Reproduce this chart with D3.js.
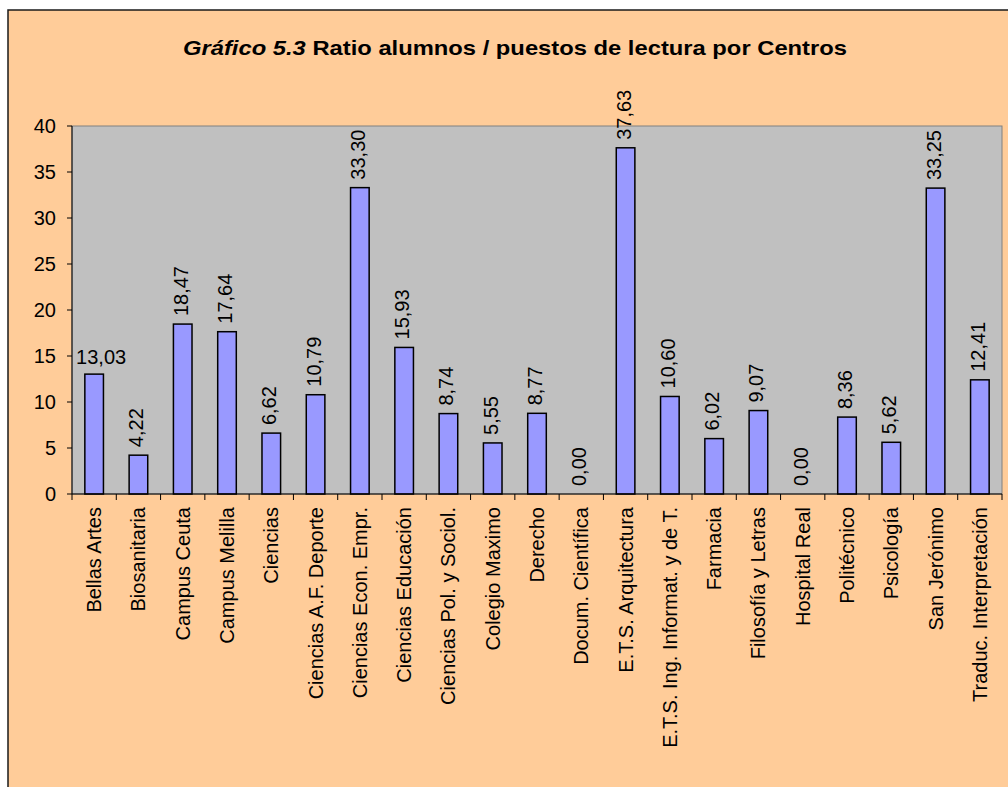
<!DOCTYPE html>
<meta charset="utf-8">
<html>
<head>
<style>
  body { margin: 0; background: #fff; }
  text { font-family: "Liberation Sans", Arial, sans-serif; }
</style>
</head>
<body>
<div id="chartContainer"></div>
<script src="https://cdn.jsdelivr.net/npm/d3@7"></script>
<script type="text/javascript">

  var centros = ["Bellas Artes", "Biosanitaria", "Campus Ceuta", "Campus Melilla", "Ciencias",
    "Ciencias A.F. Deporte", "Ciencias Econ. Empr.", "Ciencias Educación", "Ciencias Pol. y Sociol.",
    "Colegio Maximo", "Derecho", "Docum. Científica", "E.T.S. Arquitectura",
    "E.T.S. Ing. Informat. y de T.", "Farmacia", "Filosofía y Letras", "Hospital Real",
    "Politécnico", "Psicología", "San Jerónimo", "Traduc. Interpretación"];
  var ratios = [13.03, 4.22, 18.47, 17.64, 6.62, 10.79, 33.30, 15.93, 8.74, 5.55, 8.77,
    0.00, 37.63, 10.60, 6.02, 9.07, 0.00, 8.36, 5.62, 33.25, 12.41];
  var yTicks = [0, 5, 10, 15, 20, 25, 30, 35, 40];

  var width = 1008, height = 787;
  var svg = d3.select("#chartContainer").append("svg")
    .attr("width", width)
    .attr("height", height);

  // chart area (peach) - runs off the right and bottom edges
  svg.append("rect")
    .attr("x", 8).attr("y", 10)
    .attr("width", width + 20).attr("height", height + 20)
    .attr("fill", "#FFCC99")
    .attr("stroke", "#1a1a1a")
    .attr("stroke-width", 1.5);

  // title
  var title = svg.append("text")
    .attr("x", 183)
    .attr("y", 55)
    .attr("textLength", 664)
    .attr("lengthAdjust", "spacingAndGlyphs")
    .style("font-size", "21px")
    .style("font-weight", "bold");
  title.append("tspan").style("font-style", "italic").text("Gráfico 5.3");
  title.append("tspan").text("  Ratio alumnos / puestos de lectura por Centros");

  var pLeft = 72, pRight = 1002, pTop = 126, pBottom = 494;

  var x = d3.scaleBand()
    .domain(centros)
    .range([pLeft, pRight])
    .paddingInner(0.58)
    .paddingOuter(0.29);
  var xb = d3.scaleBand().domain(centros).range([pLeft, pRight]);  // category bands for ticks

  var y = d3.scaleLinear().domain([0, 40]).range([pBottom, pTop]);

  // plot area
  svg.append("rect")
    .attr("x", pLeft).attr("y", pTop)
    .attr("width", pRight - pLeft).attr("height", pBottom - pTop)
    .attr("fill", "#C0C0C0")
    .attr("stroke", "#808080")
    .attr("stroke-width", 1);

  // bars
  svg.selectAll("rect.bar")
    .data(ratios)
    .enter()
    .append("rect")
    .attr("class", "bar")
    .attr("x", function (d, i) { return x(centros[i]); })
    .attr("y", function (d) { return y(d); })
    .attr("width", x.bandwidth())
    .attr("height", function (d) { return pBottom - y(d); })
    .attr("fill", "#9999FF")
    .attr("stroke", "#000")
    .attr("stroke-width", 1.5);

  // value labels (first one is horizontal, the rest rotated)
  function fmt(v) { return v.toFixed(2).replace(".", ","); }
  svg.selectAll("text.val")
    .data(ratios)
    .enter()
    .append("text")
    .attr("class", "val")
    .style("font-size", "20px")
    .attr("transform", function (d, i) {
      var cx = xb(centros[i]) + xb.bandwidth() / 2;
      if (i === 0) return "translate(" + (cx + 7) + "," + (y(d) - 10) + ")";
      return "translate(" + (cx + 5) + "," + (y(d) - 8) + ") rotate(-90)";
    })
    .attr("text-anchor", function (d, i) { return i === 0 ? "middle" : "start"; })
    .text(function (d) { return fmt(d); });

  // y axis
  svg.append("line")
    .attr("x1", pLeft).attr("x2", pLeft).attr("y1", pTop).attr("y2", pBottom)
    .attr("stroke", "#000").attr("stroke-width", 1);
  svg.selectAll("line.ytick")
    .data(yTicks).enter().append("line")
    .attr("x1", pLeft - 5).attr("x2", pLeft)
    .attr("y1", function (d) { return y(d); })
    .attr("y2", function (d) { return y(d); })
    .attr("stroke", "#000");
  svg.selectAll("text.ytick")
    .data(yTicks).enter().append("text")
    .attr("x", 56)
    .attr("y", function (d) { return y(d) + 7; })
    .attr("text-anchor", "end")
    .style("font-size", "20px")
    .text(function (d) { return d; });

  // x axis
  svg.append("line")
    .attr("x1", pLeft).attr("x2", pRight).attr("y1", pBottom).attr("y2", pBottom)
    .attr("stroke", "#000").attr("stroke-width", 1);
  svg.selectAll("line.xtick")
    .data(centros.concat(["__end"])).enter().append("line")
    .attr("x1", function (d, i) { return pLeft + i * xb.bandwidth(); })
    .attr("x2", function (d, i) { return pLeft + i * xb.bandwidth(); })
    .attr("y1", pBottom).attr("y2", pBottom + 6)
    .attr("stroke", "#000");
  svg.selectAll("text.cat")
    .data(centros).enter().append("text")
    .attr("class", "cat")
    .style("font-size", "20px")
    .attr("text-anchor", "end")
    .attr("transform", function (d) {
      return "translate(" + (xb(d) + xb.bandwidth() / 2 + 7) + "," + 507 + ") rotate(-90)";
    })
    .text(function (d) { return d; });

</script>
</body>
</html>
